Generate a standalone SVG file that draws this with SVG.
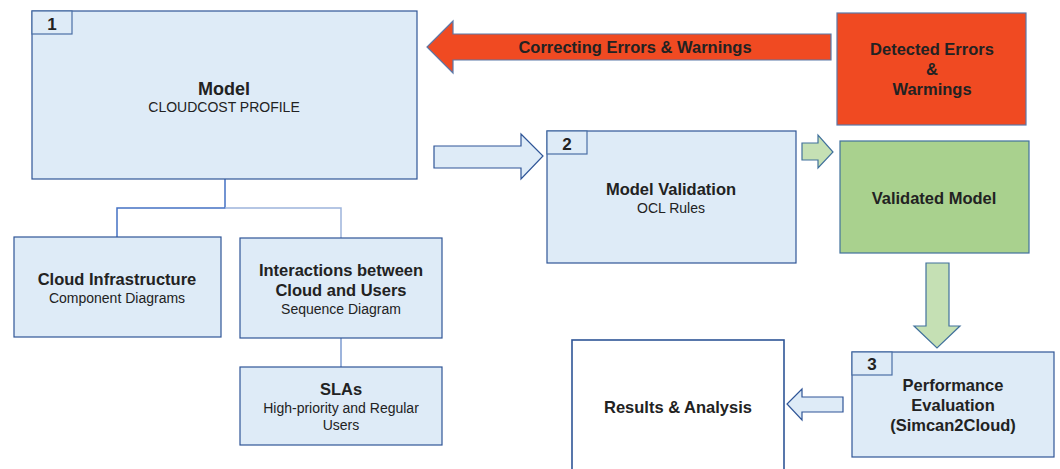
<svg xmlns="http://www.w3.org/2000/svg" width="1060" height="469" viewBox="0 0 1060 469">
  <style>
    .box { fill: #DEEBF7; stroke: #2F5597; stroke-width: 1.2; }
    .num { fill: #DEEBF7; stroke: #4A6FA5; stroke-width: 1.2; }
    .red { fill: #F04A22; stroke: #5B78A8; stroke-width: 1.2; }
    .green { fill: #A9D18E; stroke: #41719C; stroke-width: 1.2; }
    .garrow { fill: #C5E0B4; stroke: #41719C; stroke-width: 1.2; }
    .barrow { fill: #DEEBF7; stroke: #2F5597; stroke-width: 1.2; }
    .white { fill: #FFFFFF; stroke: #2F5597; stroke-width: 1.6; }
    text { font-family: "Liberation Sans", Arial, sans-serif; fill: #222222; text-anchor: middle; }
    .t { font-size: 16.5px; font-weight: bold; }
    .s { font-size: 14px; }
    .n { font-size: 17px; font-weight: bold; }
  </style>

  <!-- tree connectors from the model box -->
  <g id="connectors" fill="none" stroke-width="1.5">
    <path d="M225,179 V208 H117 V237" stroke="#4472C4"/>
    <path d="M225,208 H341 V238" stroke="#9DB4DC"/>
    <path d="M341,338 V367" stroke="#9DB4DC" stroke-width="2"/>
    <!-- block arrows between stages -->
    <polygon class="red" points="831,34 453,34 453,21 427,47 453,73 453,60 831,60"/>
    <text class="t" x="635" y="53">Correcting Errors &amp; Warnings</text>
    <polygon class="barrow" points="434,146 521,146 521,134 543,156 521,179 521,168 434,168"/>
    <polygon class="garrow" points="802,143 818,143 818,135 833,152 818,168 818,160 802,160"/>
    <polygon class="garrow" points="926,263 949,263 949,326 960,326 937,348 914,326 926,326"/>
    <polygon class="barrow" points="843,397 802,397 802,389 787,404 802,420 802,412 843,412"/>
  </g>

  <g id="model">
    <rect class="box" x="32" y="11" width="385" height="168"/>
    <rect class="num" x="32" y="11" width="40" height="23"/>
    <text class="n" x="52" y="30">1</text>
    <text x="224" y="95" style="font-size:18px;font-weight:bold">Model</text>
    <text class="s" x="224" y="112">CLOUDCOST PROFILE</text>
  </g>

  <g id="cloud-infrastructure">
    <rect class="box" x="14" y="237" width="207" height="100"/>
    <text class="t" x="117" y="285">Cloud Infrastructure</text>
    <text class="s" x="117" y="303">Component Diagrams</text>
  </g>

  <g id="interactions">
    <rect class="box" x="240" y="238" width="202" height="100"/>
    <text class="t" x="341" y="276">Interactions between</text>
    <text class="t" x="341" y="296">Cloud and Users</text>
    <text class="s" x="341" y="314">Sequence Diagram</text>
  </g>

  <g id="slas">
    <rect class="box" x="240" y="367" width="202" height="78"/>
    <text class="t" x="341" y="395">SLAs</text>
    <text class="s" x="341" y="413">High-priority and Regular</text>
    <text class="s" x="341" y="430">Users</text>
  </g>

  <g id="model-validation">
    <rect class="box" x="547" y="131" width="249" height="132"/>
    <rect class="num" x="547" y="131" width="40" height="23"/>
    <text class="n" x="567" y="150">2</text>
    <text class="t" x="671" y="195">Model Validation</text>
    <text class="s" x="671" y="213">OCL Rules</text>
  </g>

  <g id="detected-errors">
    <rect class="red" x="837" y="13" width="189" height="112"/>
    <text class="t" x="932" y="55">Detected Errors</text>
    <text class="t" x="932" y="75">&amp;</text>
    <text class="t" x="932" y="95">Warmings</text>
  </g>

  <g id="validated-model">
    <rect class="green" x="840" y="141" width="189" height="112"/>
    <text class="t" x="934" y="204">Validated Model</text>
  </g>

  <g id="performance-evaluation">
    <rect class="box" x="852" y="352" width="202" height="105"/>
    <rect class="num" x="852" y="352" width="40" height="23"/>
    <text class="n" x="872" y="370">3</text>
    <text class="t" x="953" y="391">Performance</text>
    <text class="t" x="953" y="411">Evaluation</text>
    <text class="t" x="953" y="431">(Simcan2Cloud)</text>
  </g>

  <g id="results">
    <rect class="white" x="572" y="340" width="212" height="140"/>
    <text class="t" x="678" y="413">Results &amp; Analysis</text>
  </g>
</svg>
